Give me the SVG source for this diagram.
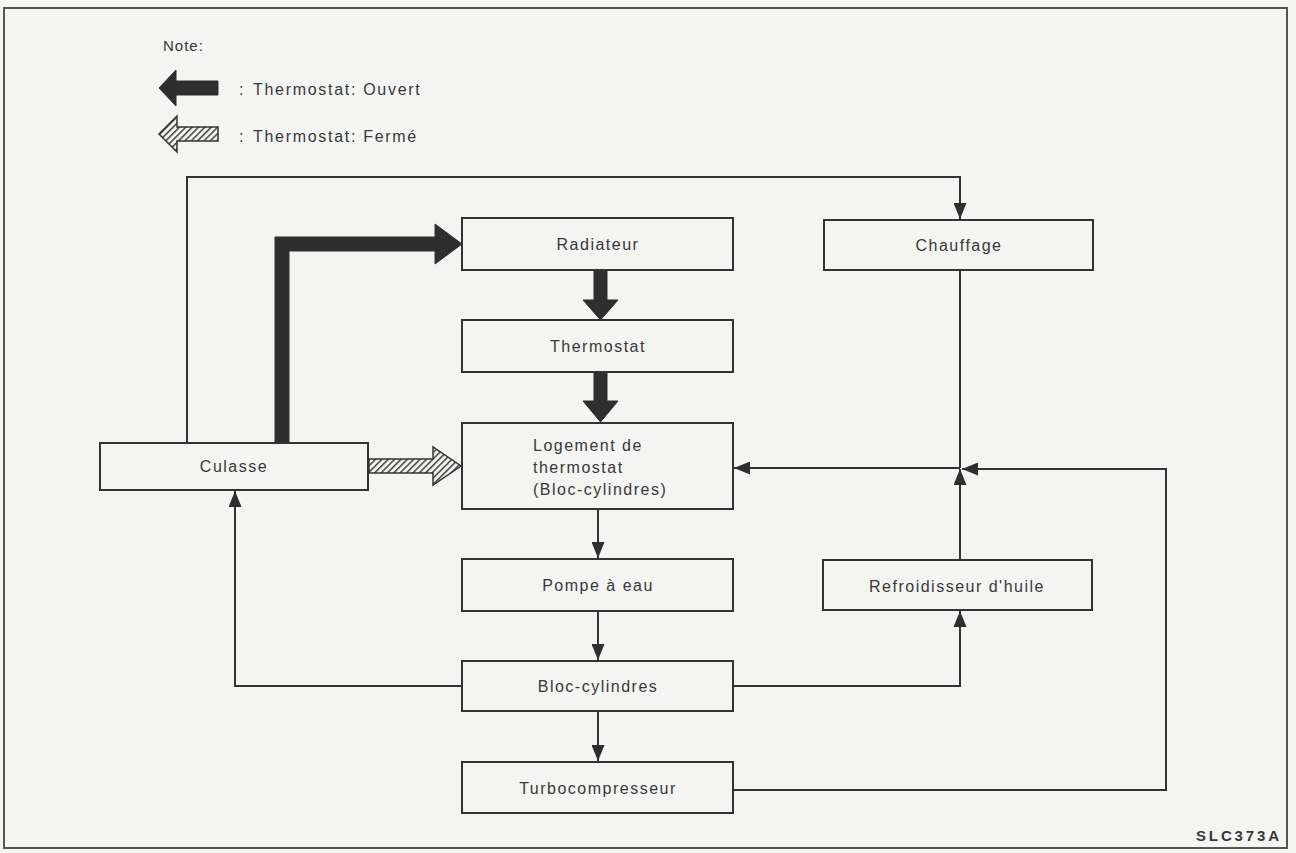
<svg xmlns="http://www.w3.org/2000/svg" width="1296" height="853" viewBox="0 0 1296 853">
<style>
.bg{fill:#f4f4f2}
.box{fill:#f4f4f2;stroke:#333;stroke-width:2}
.t{font-family:"Liberation Sans",Arial,Helvetica,sans-serif;font-size:16px;letter-spacing:1.5px;fill:#383838}
.c{text-anchor:middle}
.ln{fill:none;stroke:#333;stroke-width:2}
.solid{fill:#2e2e2e;stroke:#2e2e2e;stroke-width:1}
.hatch{fill:url(#hatch);stroke:#333;stroke-width:1.5;stroke-linejoin:miter}
</style>
<defs>
<pattern id="hatch" width="4.5" height="4.5" patternUnits="userSpaceOnUse" patternTransform="rotate(45)">
<rect width="4.5" height="4.5" fill="#f4f4f2"/>
<line x1="0.8" y1="0" x2="0.8" y2="4.5" stroke="#333" stroke-width="1.4"/>
</pattern>
<marker id="ah" markerUnits="userSpaceOnUse" markerWidth="17" markerHeight="13" refX="16" refY="6.5" orient="auto">
<path d="M0,0 L16,6.5 L0,13 z" fill="#2e2e2e"/>
</marker>
</defs>
<rect class="bg" x="0" y="0" width="1296" height="853"/>
<rect x="4" y="8" width="1283" height="840" fill="none" stroke="#555" stroke-width="2"/>

<g id="legend">
<text class="t" x="163" y="51" style="font-size:15px;letter-spacing:1px">Note:</text>
<path class="solid" d="M159,88 L176,70 L176,81 L218,81 L218,95 L176,95 L176,106 Z"/>
<text class="t" x="239" y="95">:</text>
<text class="t" x="253" y="95" style="letter-spacing:1.7px">Thermostat: Ouvert</text>
<path class="hatch" d="M159,134 L177,116 L177,127 L218,127 L218,141 L177,141 L177,152 Z"/>
<text class="t" x="239" y="142">:</text>
<text class="t" x="253" y="142" style="letter-spacing:1.7px">Thermostat: Fermé</text>
</g>

<g id="connectors">
<path class="ln" d="M187,443 V177 H960 V219" marker-end="url(#ah)"/>
<path class="ln" d="M960,270 V468"/>
<path class="ln" d="M960,468 H734" marker-end="url(#ah)"/>
<path class="ln" d="M960,560 V469" marker-end="url(#ah)"/>
<path class="ln" d="M733,790 H1166 V469 H962" marker-end="url(#ah)"/>
<path class="ln" d="M733,686 H960 V611" marker-end="url(#ah)"/>
<path class="ln" d="M462,686 H235 V491" marker-end="url(#ah)"/>
<path class="ln" d="M598,509 V558" marker-end="url(#ah)"/>
<path class="ln" d="M598,611 V660" marker-end="url(#ah)"/>
<path class="ln" d="M598,711 V761" marker-end="url(#ah)"/>
<path class="solid" d="M275,443 V237 H435 V224 L462,244 L435,264 V251 H289 V443 Z"/>
<path class="solid" d="M594,270 H607 V300 H618 L600.5,320 L583,300 H594 Z"/>
<path class="solid" d="M594,372 H607 V401 H618 L600.5,422 L583,401 H594 Z"/>
<path class="hatch" d="M369,459 H433 V447 L461,466 L433,485 V473 H369 Z"/>
</g>

<g id="radiateur"><rect class="box" x="462" y="218" width="271" height="52"/><text class="t c" x="598" y="250">Radiateur</text></g>
<g id="thermostat"><rect class="box" x="462" y="320" width="271" height="52"/><text class="t c" x="598" y="352">Thermostat</text></g>
<g id="logement"><rect class="box" x="462" y="423" width="271" height="86"/>
<text class="t" x="533" y="451">Logement de</text>
<text class="t" x="533" y="473">thermostat</text>
<text class="t" x="533" y="495">(Bloc-cylindres)</text></g>
<g id="pompe"><rect class="box" x="462" y="559" width="271" height="52"/><text class="t c" x="598" y="591">Pompe à eau</text></g>
<g id="bloc"><rect class="box" x="462" y="661" width="271" height="50"/><text class="t c" x="598" y="692">Bloc-cylindres</text></g>
<g id="turbo"><rect class="box" x="462" y="762" width="271" height="51"/><text class="t c" x="598" y="794">Turbocompresseur</text></g>
<g id="culasse"><rect class="box" x="100" y="443" width="268" height="47"/><text class="t c" x="234" y="472">Culasse</text></g>
<g id="chauffage"><rect class="box" x="824" y="220" width="269" height="50"/><text class="t c" x="959" y="251">Chauffage</text></g>
<g id="refroidisseur"><rect class="box" x="823" y="560" width="269" height="50"/><text class="t c" x="957" y="592">Refroidisseur d'huile</text></g>

<text x="1196" y="841" textLength="83" style="font-family:'Liberation Sans',Arial,sans-serif;font-size:15px;font-weight:bold;fill:#383838">SLC373A</text>
</svg>
